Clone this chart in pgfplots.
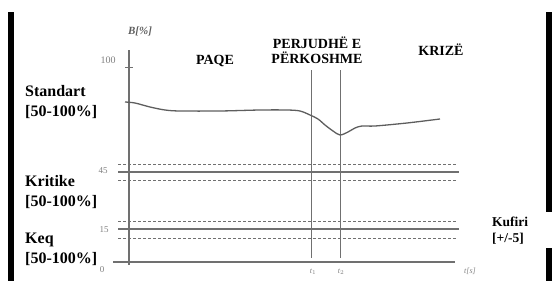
\documentclass[border=0pt]{standalone}
\usepackage{pgfplots}
\pgfplotsset{compat=1.18}
\usepackage{fontspec}
\setmainfont{Liberation Serif}
\definecolor{ln}{HTML}{707070}
\definecolor{cv}{HTML}{5E5E5E}
\definecolor{tk}{HTML}{808080}
\begin{document}
\begin{tikzpicture}
\begin{axis}[
  scale only axis, width=552pt, height=281pt,
  xmin=0, xmax=552, ymin=0, ymax=281,
  hide axis, clip=false,
]
% black bars
\addplot[fill=black, draw=none] coordinates {(8,0)(13.5,0)(13.5,269)(8,269)} -- cycle;
\addplot[fill=black, draw=none] coordinates {(546,69)(552,69)(552,269)(546,269)} -- cycle;
\addplot[fill=black, draw=none] coordinates {(546,0)(552,0)(552,33)(546,33)} -- cycle;
% axes
\addplot[ln, line width=1.1pt] coordinates {(129,16)(129,231)};
\addplot[ln, line width=1.1pt] coordinates {(113,19)(455,19)};
\addplot[ln, line width=0.8pt] coordinates {(125,214)(133,214)};
% t1 t2
\addplot[ln, line width=1pt] coordinates {(311,23)(311,211)};
\addplot[ln, line width=1pt] coordinates {(340,23)(340,211)};
% 45 band
\addplot[ln, line width=1.1pt] coordinates {(118,109)(459,109)};
\addplot[ln, line width=0.8pt, dash pattern=on 3pt off 2pt] coordinates {(118,117)(457,117)};
\addplot[ln, line width=0.8pt, dash pattern=on 3pt off 2pt] coordinates {(118,101)(457,101)};
% 15 band
\addplot[ln, line width=1.1pt] coordinates {(118,52)(459,52)};
\addplot[ln, line width=0.8pt, dash pattern=on 3pt off 2pt] coordinates {(118,60)(457,60)};
\addplot[ln, line width=0.8pt, dash pattern=on 3pt off 2pt] coordinates {(118,43)(457,43)};
% curve
\addplot[cv, line width=1.3pt, smooth, tension=0.5] coordinates {
(125,179)(135,178)(150,174)(165,171)(180,170)(220,170)(260,171)(287,171)(300,170)
(310,166)(318,162)(325,156)(333,150)(340,146)(348,149)(355,153)(362,155)(375,155)
(407,158)(440,162)};
% tick labels
\node[tk, font=\fontsize{10}{11}\selectfont] at (axis cs:108,221) {100};
\node[tk, font=\fontsize{9}{10}\selectfont] at (axis cs:103,110) {45};
\node[tk, font=\fontsize{9}{10}\selectfont] at (axis cs:104,51) {15};
\node[tk, font=\fontsize{9}{10}\selectfont] at (axis cs:102,11) {0};
\node[cv, font=\fontsize{11}{12}\selectfont\bfseries\itshape] at (axis cs:140,250) {B[\%]};
\node[tk, font=\fontsize{8}{9}\selectfont\itshape] at (axis cs:313,9) {t$_1$};
\node[tk, font=\fontsize{8}{9}\selectfont\itshape] at (axis cs:341,9) {t$_2$};
\node[tk, font=\fontsize{8}{9}\selectfont\itshape] at (axis cs:470,10) {t[s]};
% headers
\node[font=\fontsize{14}{15}\selectfont\bfseries] at (axis cs:215,220) {PAQE};
\node[font=\fontsize{14}{15}\selectfont\bfseries, align=center] at (axis cs:317,231) {PERJUDHË E\\PËRKOSHME};
\node[font=\fontsize{14}{15}\selectfont\bfseries] at (axis cs:441,231) {KRIZË};
% left labels
\node[anchor=west, inner sep=0pt, font=\fontsize{16}{17}\selectfont\bfseries] at (axis cs:25,190) {Standart};
\node[anchor=west, inner sep=0pt, font=\fontsize{16}{17}\selectfont\bfseries] at (axis cs:25,169) {[50-100\%]};
\node[anchor=west, inner sep=0pt, font=\fontsize{16}{17}\selectfont\bfseries] at (axis cs:25,100) {Kritike};
\node[anchor=west, inner sep=0pt, font=\fontsize{16}{17}\selectfont\bfseries] at (axis cs:25,79) {[50-100\%]};
\node[anchor=west, inner sep=0pt, font=\fontsize{16}{17}\selectfont\bfseries] at (axis cs:25,41) {Keq};
\node[anchor=west, inner sep=0pt, font=\fontsize{16}{17}\selectfont\bfseries] at (axis cs:25,22) {[50-100\%]};
% right labels
\node[anchor=west, inner sep=0pt, font=\fontsize{13.5}{14}\selectfont\bfseries] at (axis cs:492,59) {Kufiri};
\node[anchor=west, inner sep=0pt, font=\fontsize{13.5}{14}\selectfont\bfseries] at (axis cs:492,42) {[+/-5]};
\end{axis}
\pgfresetboundingbox
\path (current axis.south west) rectangle (current axis.north east);
\end{tikzpicture}
\end{document}
